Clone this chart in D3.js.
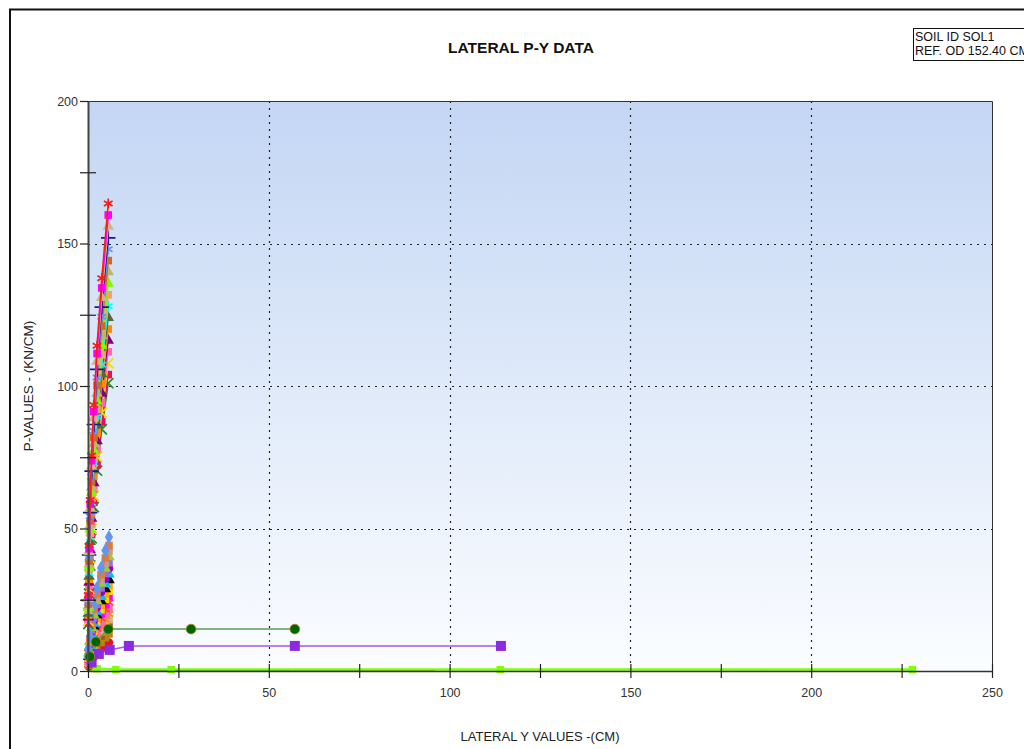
<!DOCTYPE html>
<html>
<head>
<meta charset="utf-8">
<script src="https://cdn.jsdelivr.net/npm/d3@7"></script>
<style>
  body { margin: 0; background: #fff; }
  svg { display: block; font-family: "Liberation Sans", Arial, sans-serif; }
</style>
</head>
<body>
<svg id="chart" width="1024" height="749"></svg>
<script>
// ---------------- DATA ----------------
const titleText = "LATERAL P-Y DATA";
const legendLines = ["SOIL ID SOL1", "REF. OD 152.40 CM"];
const xLabel = "LATERAL Y VALUES -(CM)";
const yLabel = "P-VALUES - (KN/CM)";
const xTicks = [0, 25, 50, 75, 100, 125, 150, 175, 200, 225, 250];
const yTicks = [0, 25, 50, 75, 100, 125, 150, 175, 200];
const xGrid = [50, 100, 150, 200];
const yGrid = [50, 100, 150];

// deflections (cm) shared by the stiff curves
const ysHigh = [0, 0.1, 0.3, 0.6, 1.0, 1.6, 2.5, 3.8, 5.6];
// p values (kN/cm) of the stiff curves
const pHigh = [
  [0, 26.7, 44.0, 60.0, 75.6, 93.3, 114.1, 137.8, 164],
  [0, 26.1, 42.9, 58.6, 73.8, 91.0, 111.4, 134.4, 160],
  [0, 25.4, 41.8, 57.1, 71.9, 88.8, 108.6, 131.0, 156],
  [0, 24.8, 40.7, 55.6, 70.1, 86.5, 105.8, 127.7, 152],
  [0, 24.1, 39.7, 54.2, 68.2, 84.2, 103.0, 124.3, 148],
  [0, 23.5, 38.6, 52.7, 66.4, 81.9, 100.2, 121.0, 144],
  [0, 22.8, 37.5, 51.2, 64.5, 79.7, 97.4, 117.6, 140],
  [0, 22.2, 36.4, 49.8, 62.7, 77.4, 94.7, 114.2, 136],
  [0, 21.5, 35.4, 48.3, 60.9, 75.1, 91.9, 110.9, 132],
  [0, 20.9, 34.3, 46.8, 59.0, 72.8, 89.1, 107.5, 128],
  [0, 20.2, 33.2, 45.4, 57.2, 70.6, 86.3, 104.2, 124],
  [0, 19.6, 32.2, 43.9, 55.3, 68.3, 83.5, 100.8, 120],
  [0, 18.9, 31.1, 42.5, 53.5, 66.0, 80.7, 97.4, 116],
  [0, 18.3, 30.0, 41.0, 51.6, 63.7, 78.0, 94.1, 112],
  [0, 17.6, 28.9, 39.5, 49.8, 61.5, 75.2, 90.7, 108],
  [0, 17.0, 27.9, 38.1, 47.9, 59.2, 72.4, 87.4, 104],
  [0, 16.5, 27.1, 37.0, 46.6, 57.5, 70.3, 84.8, 101]
];
const colorsHigh = ["#ff1a1a", "#ff00ff", "#d2b48c", "#1a1a80", "#6495ed", "#d2691e", "#bdb76b",
  "#7cfc00", "#f4a460", "#00ffff", "#556b2f", "#ff8c00", "#800080", "#ff69b4", "#ffd700", "#e0115f", "#228b22"];
const symbolsHigh = ["asterisk", "square", "triangle", "plus", "asterisk", "square", "triangle",
  "triangle", "square", "asterisk", "triangle", "square", "triangle", "square", "times", "square", "times"];

// deflections (cm) shared by the softer curves
const ysLow = [0, 0.2, 0.5, 1.0, 1.6, 2.4, 3.6, 4.8, 5.8];
const pLow = [
  [0, 7.4, 12.2, 17.9, 23.1, 29.0, 36.1, 42.3, 47],
  [0, 6.9, 11.4, 16.7, 21.6, 27.1, 33.8, 39.6, 44],
  [0, 6.6, 10.9, 16.0, 20.7, 25.9, 32.3, 37.8, 42],
  [0, 6.3, 10.4, 15.2, 19.7, 24.6, 30.8, 36.0, 40],
  [0, 6.0, 9.9, 14.4, 18.7, 23.4, 29.2, 34.2, 38],
  [0, 5.7, 9.4, 13.7, 17.7, 22.2, 27.7, 32.4, 36],
  [0, 5.3, 8.8, 12.9, 16.7, 20.9, 26.1, 30.6, 34],
  [0, 5.0, 8.3, 12.2, 15.7, 19.7, 24.6, 28.8, 32],
  [0, 4.7, 7.8, 11.4, 14.8, 18.5, 23.1, 27.0, 30],
  [0, 4.4, 7.3, 10.6, 13.8, 17.2, 21.5, 25.2, 28],
  [0, 4.1, 6.8, 9.9, 12.8, 16.0, 20.0, 23.4, 26],
  [0, 3.8, 6.2, 9.1, 11.8, 14.8, 18.5, 21.6, 24],
  [0, 3.5, 5.7, 8.4, 10.8, 13.6, 16.9, 19.8, 22],
  [0, 3.1, 5.2, 7.6, 9.8, 12.3, 15.4, 18.0, 20],
  [0, 2.8, 4.7, 6.8, 8.9, 11.1, 13.8, 16.2, 18],
  [0, 2.5, 4.2, 6.1, 7.9, 9.9, 12.3, 14.4, 16],
  [0, 2.0, 3.4, 4.9, 6.4, 8.0, 10.0, 11.7, 13],
  [0, 1.6, 2.6, 3.8, 4.9, 6.2, 7.7, 9.0, 10]
];
const colorsLow = ["#6495ed", "#e07b39", "#c0a080", "#9acd32", "#9370db", "#9400d3", "#00bfff",
  "#000000", "#ffa500", "#ffd700", "#ff00ff", "#ff4040", "#ff69b4", "#ff8c00", "#d2b48c", "#a0522d", "#b8860b", "#dc143c"];
const symbolsLow = ["diamond", "square", "square", "triangle", "square", "circle", "triangle",
  "triangle", "square", "square", "square", "asterisk", "square", "asterisk", "square", "square", "square", "circle"];

// long-tail curves
const greenY = [0, 0.5, 2.2, 5.6, 28.5, 57.2];
const greenP = [0, 5, 10.2, 14.7, 14.7, 14.7];
const purpleY = [0, 1.0, 3.0, 6.0, 11.3, 57.2, 114.2];
const purpleP = [0, 3, 6, 7.4, 8.8, 8.8, 8.8];
const limeY = [0, 2.5, 7.7, 23, 114, 228];
const limeP = [0, 0.8, 0.5, 0.5, 0.5, 0.5];
const navyY = [9, 17, 30, 56];
const navyP = [0, 0, 0, 0];
const violetY = [56, 75];
const violetP = [0, 0];
const brownY = [75, 96];
const brownP = [0, 0];

// ---------------- CHART ----------------
const svg = d3.select("#chart");
const x = d3.scaleLinear().domain([0, 250]).range([88, 992]);
const y = d3.scaleLinear().domain([0, 200]).range([671, 101]);

// outer frame
svg.append("path").attr("d", "M10,749 L10,9.5 L1024,9.5").attr("fill", "none")
  .attr("stroke", "#111").attr("stroke-width", 2);

// gradient background
const defs = svg.append("defs");
const grad = defs.append("linearGradient").attr("id", "bg").attr("x1", 0).attr("y1", 0).attr("x2", 0).attr("y2", 1);
grad.append("stop").attr("offset", "0%").attr("stop-color", "#c3d6f4");
grad.append("stop").attr("offset", "100%").attr("stop-color", "#fbfdff");
svg.append("rect").attr("x", x(0)).attr("y", y(200)).attr("width", x(250) - x(0)).attr("height", y(0) - y(200))
  .attr("fill", "url(#bg)");

// grid
svg.append("g").selectAll("line").data(xGrid).join("line")
  .attr("x1", d => Math.round(x(d)) + 0.5).attr("x2", d => Math.round(x(d)) + 0.5)
  .attr("y1", y(200)).attr("y2", y(0))
  .attr("stroke", "#222").attr("stroke-width", 1.2).attr("stroke-dasharray", "2,5");
svg.append("g").selectAll("line").data(yGrid).join("line")
  .attr("y1", d => Math.round(y(d)) + 0.5).attr("y2", d => Math.round(y(d)) + 0.5)
  .attr("x1", x(0)).attr("x2", x(250))
  .attr("stroke", "#222").attr("stroke-width", 1.2).attr("stroke-dasharray", "2,5");

// plot border (top & right)
svg.append("path").attr("d", `M${x(0)},${y(200) + 0.5} L${x(250) + 0.5},${y(200) + 0.5} L${x(250) + 0.5},${y(0)}`)
  .attr("fill", "none").attr("stroke", "#333").attr("stroke-width", 1);

// symbols
const symMap = {
  asterisk: d3.symbolAsterisk || d3.symbolStar,
  plus: d3.symbolPlus || d3.symbolCross,
  times: d3.symbolTimes || d3.symbolX || d3.symbolCross,
  square: d3.symbolSquare,
  triangle: d3.symbolTriangle,
  diamond: d3.symbolDiamond,
  circle: d3.symbolCircle
};
const strokeSyms = new Set(["asterisk", "plus", "times"]);

const line = d3.line().x(d => x(d[0])).y(d => y(d[1]));
const dataG = svg.append("g");

function drawSeries(ys, ps, color, sym, opts = {}) {
  const pts = ys.map((v, i) => [v, ps[i]]);
  dataG.append("path").datum(pts).attr("d", line).attr("fill", "none")
    .attr("stroke", opts.lineColor || color).attr("stroke-width", opts.width || 1.5);
  if (!sym) return;
  const size = opts.size || (strokeSyms.has(sym) ? 70 : 58);
  const gen = d3.symbol().type(symMap[sym]).size(size);
  const mpts = opts.skipFirst ? pts.slice(1) : pts;
  dataG.append("g").selectAll("path").data(mpts).join("path")
    .attr("transform", d => `translate(${x(d[0])},${y(d[1])})`)
    .attr("d", gen)
    .attr("fill", strokeSyms.has(sym) ? "none" : (opts.markerColor || color))
    .attr("stroke", strokeSyms.has(sym) ? (opts.markerColor || color) : (opts.markerStroke || "none"))
    .attr("stroke-width", strokeSyms.has(sym) ? 1.7 : 0.8);
}

// flat zero-p segments along axis
drawSeries(navyY, navyP, "#0a1a9a", null, { width: 2 });
drawSeries(violetY, violetP, "#7b2fbf", null, { width: 2 });
drawSeries(brownY, brownP, "#9a2a10", null, { width: 2 });
drawSeries(limeY, limeP, "#7fff00", "square", { width: 2.5, size: 55, markerColor: "#80ff00", skipFirst: true });

// soft curves
for (let i = pLow.length - 1; i >= 0; i--) {
  drawSeries(ysLow, pLow[i], colorsLow[i], symbolsLow[i], { skipFirst: true });
}
drawSeries(purpleY, purpleP, "#8a2be2", "square", { lineColor: "#9b5de5", size: 100, skipFirst: true });
drawSeries(greenY, greenP, "#006400", "circle", { lineColor: "#5a9e5a", size: 75, markerStroke: "#b8860b", skipFirst: true });

// stiff curves
for (let i = pHigh.length - 1; i >= 0; i--) {
  drawSeries(ysHigh, pHigh[i], colorsHigh[i], symbolsHigh[i], { skipFirst: true });
}

// axes
const yAxis = svg.append("g").attr("transform", `translate(${x(0)},0)`)
  .call(d3.axisLeft(y).tickValues(yTicks).tickSize(8).tickPadding(2).tickSizeOuter(0)
    .tickFormat(d => d % 50 === 0 ? d : ""));
yAxis.select(".domain").attr("stroke", "#444").attr("stroke-width", 2);
yAxis.selectAll(".tick line").attr("stroke", "#222").attr("stroke-width", 1.2)
  .attr("x1", d => d % 50 === 0 ? 0 : 8).attr("x2", -8);
yAxis.selectAll(".tick text").attr("font-size", 12.5).attr("fill", "#333")
  .attr("font-family", "Liberation Sans, Arial, sans-serif");

const xAxis = svg.append("g").attr("transform", `translate(0,${y(0)})`)
  .call(d3.axisBottom(x).tickValues(xTicks).tickSize(7).tickPadding(10).tickSizeOuter(0)
    .tickFormat(d => d % 50 === 0 ? d : ""));
xAxis.select(".domain").attr("stroke", "#333").attr("stroke-width", 1.5);
xAxis.selectAll(".tick line").attr("stroke", "#222").attr("stroke-width", 1.2).attr("y1", -7).attr("y2", 7);
xAxis.selectAll(".tick text").attr("font-size", 12.5).attr("fill", "#333")
  .attr("font-family", "Liberation Sans, Arial, sans-serif");

// title
svg.append("text").attr("x", 521).attr("y", 53).attr("text-anchor", "middle")
  .attr("font-size", 15.5).attr("font-weight", "bold").attr("fill", "#111").text(titleText);

// axis labels
svg.append("text").attr("x", 540).attr("y", 741).attr("text-anchor", "middle")
  .attr("font-size", 13).attr("fill", "#222").text(xLabel);
svg.append("text").attr("transform", "translate(33,386) rotate(-90)").attr("text-anchor", "middle")
  .attr("font-size", 13.5).attr("fill", "#222").text(yLabel);

// legend box
svg.append("rect").attr("x", 913.5).attr("y", 28.5).attr("width", 130).attr("height", 32)
  .attr("fill", "#fff").attr("stroke", "#111").attr("stroke-width", 1);
svg.selectAll(".leg").data(legendLines).join("text").attr("class", "leg")
  .attr("x", 915).attr("y", (d, i) => 41 + i * 13.5).attr("font-size", 12.5).attr("fill", "#111").text(d => d);
</script>
</body>
</html>
